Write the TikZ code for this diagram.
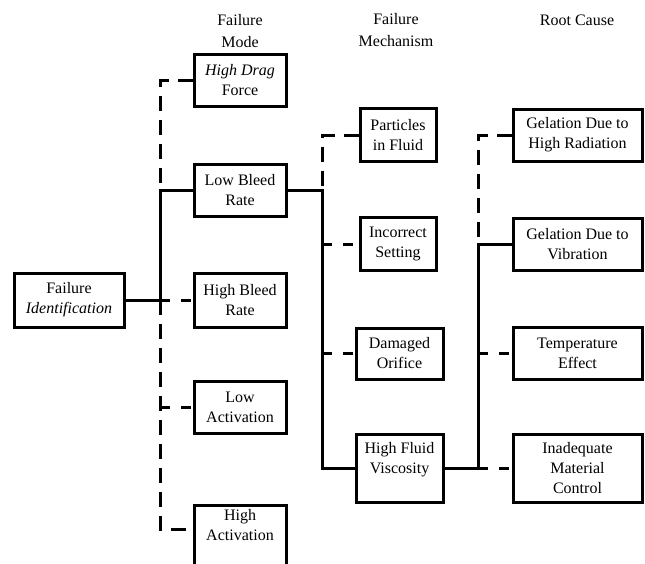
\documentclass[tikz,border=0pt]{standalone}
\usepackage{fontspec}
\setmainfont{Liberation Serif}
\usetikzlibrary{calc}
\tikzset{fbox/.style={draw, line width=3pt, align=center, inner sep=4pt, font=\fontsize{16}{20}\selectfont}, modebox/.style={fbox, minimum width=92, minimum height=52}, mechbox/.style={fbox, minimum width=76, minimum height=53}, wmechbox/.style={fbox, minimum width=87, minimum height=51}, rootbox/.style={fbox, minimum width=129, minimum height=52}, head/.style={align=center, font=\fontsize{16}{22}\selectfont}, sline/.style={line width=3pt}, dline/.style={line width=3pt, dash pattern=on 10pt off 11pt}, vline/.style={line width=3pt, dash pattern=on 15pt off 9pt}}

\begin{document}
\begin{tikzpicture}[x=1pt,y=-1pt]
\useasboundingbox (0,0) rectangle (645,563);
\clip (0,0) rectangle (645,563);
\node[head] (hmode) at (240,31) {Failure\\Mode};
\node[head] (hmech) at (396,30) {Failure\\Mechanism};
\node[head] (hroot) at (577,20) {Root Cause};
\node[fbox, minimum width=110, minimum height=54] (fid) at (69,300) {Failure\\\textit{Identification}};
\node[modebox] (hdf) at (240,80) {\textit{High Drag}\\Force};
\node[modebox] (lbr) at (240,190) {Low Bleed\\Rate};
\node[modebox, minimum height=54] (hbr) at (240,300) {High Bleed\\Rate};
\node[modebox] (lact) at (240,407) {Low\\Activation};
\node[modebox, anchor=north] (hact) at (240,504) {High\\Activation\\~\\~};
\node[mechbox] (pif) at (398,135) {Particles\\in Fluid};
\node[mechbox] (ics) at (398,244) {Incorrect\\Setting};
\node[wmechbox] (dor) at (399.5,353.5) {Damaged\\Orifice};
\node[wmechbox, minimum height=68] (hfv) at (399.5,468) {High Fluid\\Viscosity\\~};
\node[rootbox] (ghr) at (577.5,135) {Gelation Due to\\High Radiation};
\node[rootbox] (gdv) at (577.5,244) {Gelation Due to\\Vibration};
\node[rootbox] (tef) at (577.5,353.5) {Temperature\\Effect};
\node[rootbox, minimum height=68] (imc) at (577.5,468) {Inadequate\\Material\\Control};
\coordinate (jmode) at (160,300);
\coordinate (jmech) at (322,190);
\coordinate (jroot) at (478,468);
\coordinate (hactin) at ([yshift=-25pt]hact.north west);
% failure mode
\draw[vline] (hdf.west) -| (jmode |- lbr.west);
\draw[dline] (jmode) -- (hbr.west);
\draw[dline] (jmode |- lact.west) -- (lact.west);
\draw[vline] (jmode) |- (hactin);
\draw[sline] (fid.east) -- (jmode) |- (lbr.west);
% failure mechanism
\draw[vline] (pif.west) -| (jmech);
\draw[dline] (jmech |- ics.west) -- (ics.west);
\draw[dline] (jmech |- dor.west) -- (dor.west);
\draw[sline] (lbr.east) -- (jmech) |- (hfv.west);
% root cause
\draw[vline] (ghr.west) -| (jroot |- gdv.west);
\draw[dline] (jroot |- tef.west) -- (tef.west);
\draw[dline] (jroot) -- (imc.west);
\draw[sline] (hfv.east) -- (jroot) |- (gdv.west);
\end{tikzpicture}
\end{document}
